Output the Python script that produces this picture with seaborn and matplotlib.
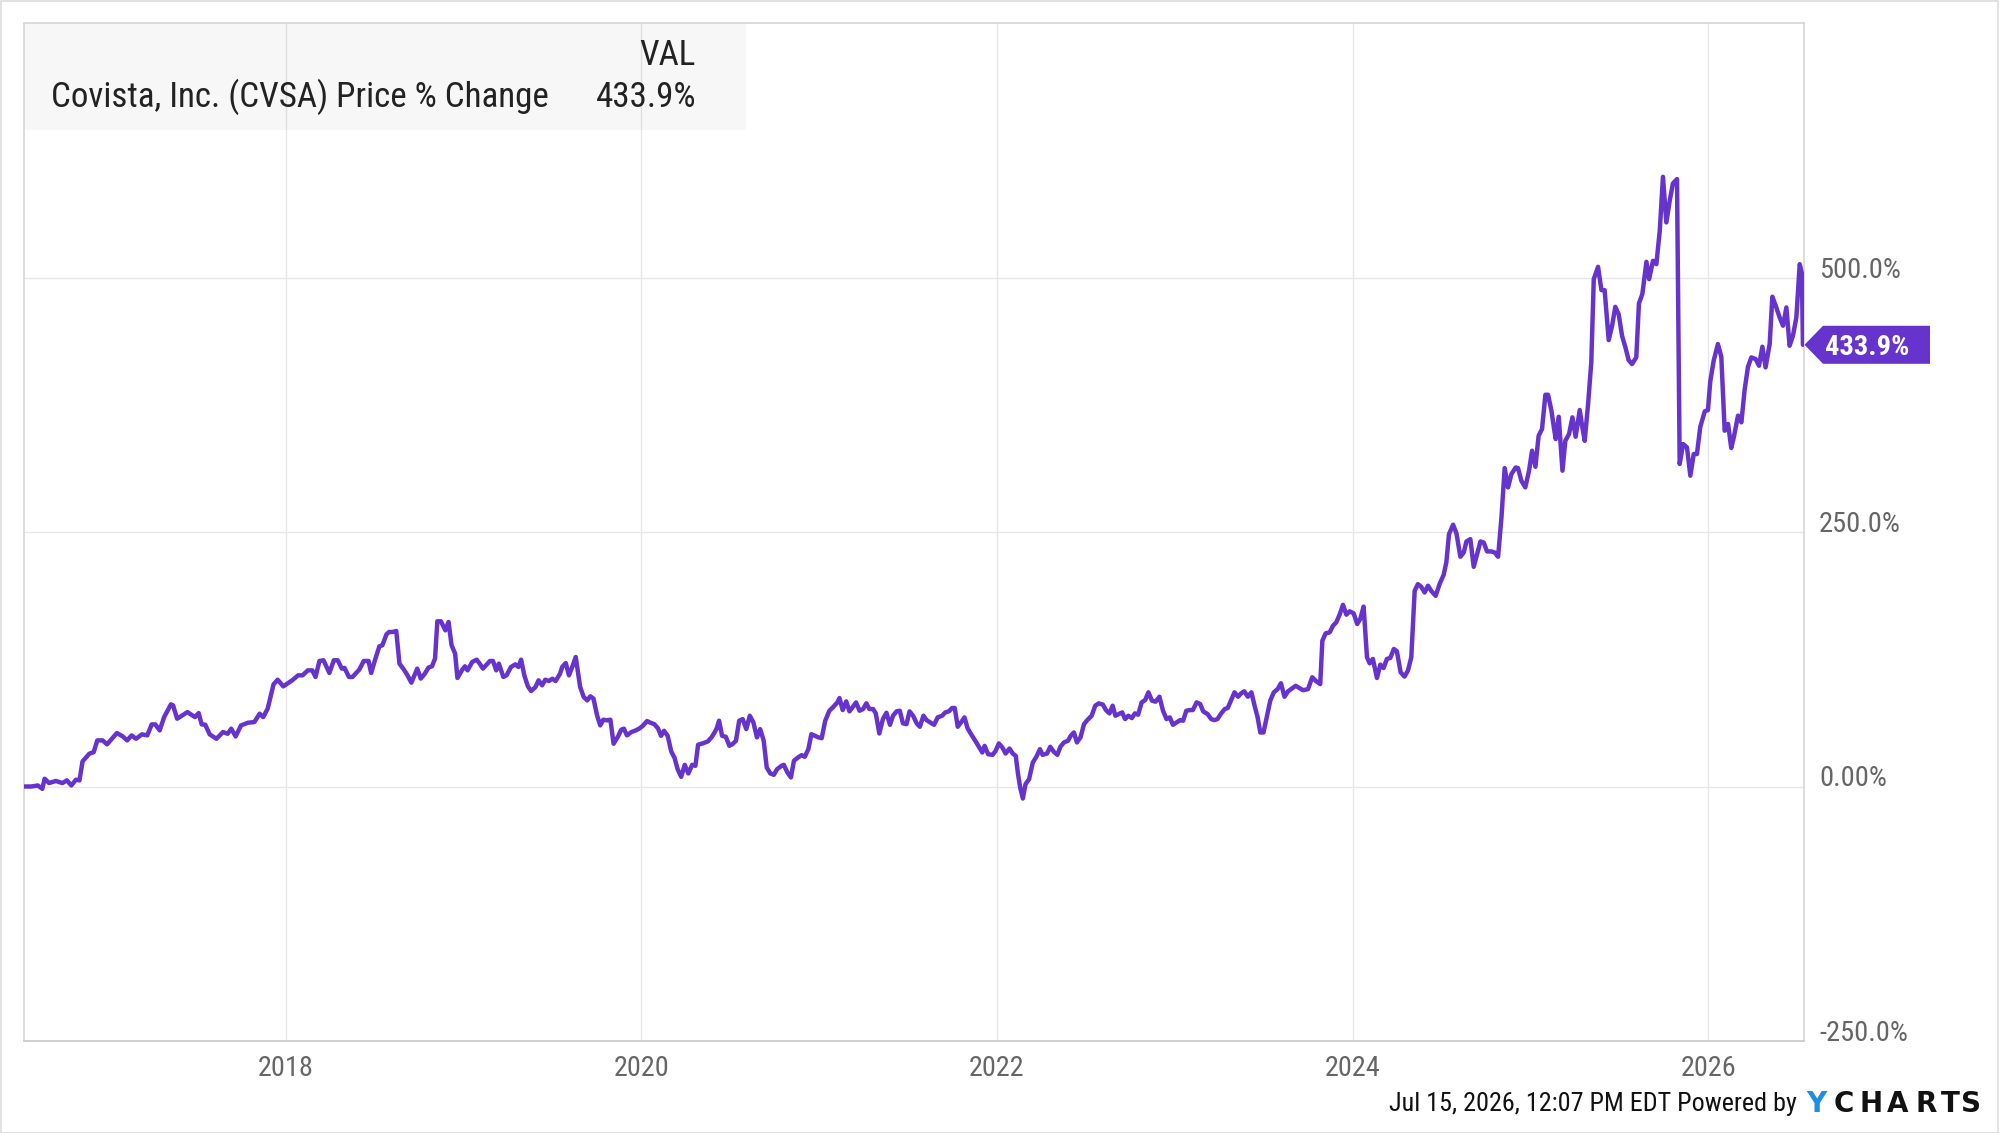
import matplotlib
matplotlib.use("Agg")
import matplotlib.pyplot as plt
from matplotlib.patches import Rectangle, Polygon
import pandas as pd
import seaborn as sns

# price % change of CVSA (decimal year, % change)
years_2016_2019 = [
    2016.532, 2016.570, 2016.607, 2016.632, 2016.645, 2016.670, 2016.708, 2016.745, 2016.770, 2016.795,
    2016.821, 2016.841, 2016.858, 2016.896, 2016.921, 2016.941, 2016.971, 2016.996, 2017.051, 2017.084,
    2017.109, 2017.134, 2017.159, 2017.192, 2017.222, 2017.247, 2017.267, 2017.292, 2017.317, 2017.355,
    2017.367, 2017.390, 2017.448, 2017.490, 2017.511, 2017.528, 2017.548, 2017.573, 2017.611, 2017.648,
    2017.674, 2017.694, 2017.719, 2017.749, 2017.787, 2017.824, 2017.854, 2017.874, 2017.899, 2017.932,
    2017.955, 2017.987, 2018.037, 2018.070, 2018.095, 2018.125, 2018.150, 2018.168, 2018.190, 2018.213,
    2018.246, 2018.271, 2018.293, 2018.316, 2018.331, 2018.356, 2018.376, 2018.414, 2018.439, 2018.466,
    2018.481, 2018.502, 2018.527, 2018.544, 2018.567, 2018.582, 2018.602, 2018.622, 2018.640, 2018.665,
    2018.682, 2018.707, 2018.740, 2018.760, 2018.783, 2018.803, 2018.823, 2018.840, 2018.853, 2018.873,
    2018.898, 2018.916, 2018.933, 2018.953, 2018.966, 2018.991, 2019.008, 2019.023, 2019.049, 2019.074,
    2019.091, 2019.109, 2019.149, 2019.166, 2019.184, 2019.199, 2019.224, 2019.242, 2019.267, 2019.292,
    2019.309, 2019.324, 2019.342, 2019.362, 2019.380, 2019.405, 2019.422, 2019.442, 2019.460, 2019.480,
    2019.500, 2019.518, 2019.543, 2019.555, 2019.575, 2019.593, 2019.613, 2019.631, 2019.656, 2019.676,
    2019.696, 2019.713, 2019.731, 2019.751, 2019.769, 2019.786, 2019.806, 2019.826, 2019.844, 2019.869,
    2019.887, 2019.902, 2019.919, 2019.944, 2019.969, 2019.987, 2020.007, 2020.032,
]
pct_2016_2019 = [
    0.0, 0.0, 1.0, -2.3, 7.6, 3.4, 5.4, 3.4, 6.0, 1.0,
    6.7, 6.0, 24.6, 32.2, 33.8, 45.3, 45.3, 41.4, 52.5, 49.2,
    45.3, 50.2, 46.9, 51.2, 50.2, 61.0, 61.0, 55.1, 68.2, 80.7,
    79.7, 66.6, 73.1, 68.2, 72.1, 61.0, 60.7, 51.2, 46.9, 53.5,
    51.8, 56.8, 49.2, 60.0, 62.6, 63.3, 71.5, 68.2, 76.4, 100.3,
    104.9, 98.4, 104.3, 109.2, 109.2, 114.1, 114.1, 107.6, 123.3, 124.0,
    111.5, 124.0, 124.0, 115.8, 116.5, 107.6, 107.6, 114.8, 123.3, 123.3,
    111.5, 124.0, 137.7, 138.7, 149.5, 151.8, 151.8, 152.8, 120.7, 114.8,
    110.2, 102.0, 115.8, 106.0, 110.9, 116.8, 118.1, 125.6, 162.3, 162.3,
    153.4, 161.6, 138.7, 130.5, 106.6, 114.1, 118.1, 114.1, 122.3, 124.6,
    120.7, 115.8, 123.3, 123.3, 114.1, 120.7, 107.6, 109.2, 117.4, 120.0,
    117.4, 124.6, 109.2, 98.4, 93.8, 97.7, 104.3, 99.4, 104.9, 103.6,
    105.9, 103.6, 110.9, 117.4, 121.3, 109.2, 118.1, 127.2, 97.7, 87.9,
    84.6, 88.6, 86.3, 69.9, 60.0, 65.6, 65.0, 65.6, 42.0, 49.2,
    55.8, 56.8, 50.2, 53.5, 55.1, 56.8, 59.4, 64.3,
]

years_2020_2023 = [
    2020.048, 2020.073, 2020.093, 2020.111, 2020.128, 2020.148, 2020.168, 2020.186, 2020.204, 2020.224,
    2020.244, 2020.264, 2020.286, 2020.304, 2020.319, 2020.344, 2020.374, 2020.394, 2020.412, 2020.424,
    2020.437, 2020.454, 2020.475, 2020.495, 2020.512, 2020.532, 2020.550, 2020.570, 2020.590, 2020.610,
    2020.630, 2020.650, 2020.668, 2020.688, 2020.705, 2020.725, 2020.745, 2020.763, 2020.788, 2020.801,
    2020.821, 2020.841, 2020.858, 2020.881, 2020.901, 2020.919, 2020.939, 2020.956, 2020.976, 2020.996,
    2021.014, 2021.034, 2021.057, 2021.077, 2021.102, 2021.114, 2021.132, 2021.152, 2021.170, 2021.190,
    2021.207, 2021.227, 2021.247, 2021.265, 2021.282, 2021.303, 2021.318, 2021.338, 2021.358, 2021.378,
    2021.398, 2021.415, 2021.435, 2021.453, 2021.471, 2021.491, 2021.508, 2021.528, 2021.548, 2021.566,
    2021.586, 2021.604, 2021.624, 2021.646, 2021.666, 2021.691, 2021.709, 2021.729, 2021.747, 2021.762,
    2021.779, 2021.797, 2021.817, 2021.834, 2021.854, 2021.880, 2021.900, 2021.917, 2021.930, 2021.950,
    2021.975, 2021.992, 2022.010, 2022.030, 2022.048, 2022.070, 2022.088, 2022.105, 2022.118, 2022.130,
    2022.145, 2022.160, 2022.180, 2022.201, 2022.221, 2022.241, 2022.256, 2022.281, 2022.299, 2022.319,
    2022.339, 2022.356, 2022.376, 2022.399, 2022.414, 2022.432, 2022.449, 2022.469, 2022.489, 2022.507,
    2022.532, 2022.552, 2022.572, 2022.595, 2022.612, 2022.632, 2022.650, 2022.665, 2022.683, 2022.703,
    2022.720, 2022.738, 2022.758, 2022.775, 2022.793, 2022.813, 2022.833, 2022.851, 2022.871, 2022.891,
    2022.913, 2022.933, 2022.953, 2022.971, 2022.989, 2023.009, 2023.029, 2023.046, 2023.064, 2023.084,
    2023.101, 2023.122, 2023.142, 2023.159, 2023.184, 2023.204, 2023.222, 2023.239, 2023.260, 2023.280,
    2023.297, 2023.315, 2023.335, 2023.355, 2023.372, 2023.390, 2023.410, 2023.430, 2023.448, 2023.465,
    2023.480, 2023.498, 2023.516, 2023.536, 2023.556, 2023.578, 2023.596, 2023.616, 2023.636,
]
pct_2020_2023 = [
    62.9, 61.2, 57.3, 49.8, 54.7, 49.8, 34.4, 28.5, 17.0, 9.5,
    21.3, 12.8, 21.3, 20.3, 41.0, 42.3, 44.3, 48.2, 53.1, 57.3,
    64.6, 49.8, 48.8, 40.0, 41.6, 44.9, 64.6, 66.2, 56.4, 69.5,
    62.9, 48.2, 56.4, 44.9, 18.7, 12.8, 11.5, 17.0, 20.3, 21.3,
    13.8, 8.9, 25.3, 28.5, 30.8, 29.2, 36.7, 51.4, 49.8, 48.2,
    47.5, 64.6, 74.4, 77.7, 82.6, 86.9, 75.1, 83.6, 73.8, 78.4,
    82.6, 74.4, 76.1, 81.7, 76.1, 76.1, 71.8, 52.1, 66.2, 72.4,
    60.6, 69.5, 73.8, 74.4, 62.0, 61.3, 73.8, 69.5, 62.0, 58.7,
    69.5, 65.2, 62.9, 60.6, 67.9, 69.5, 72.8, 73.8, 77.1, 77.1,
    58.7, 62.9, 67.9, 57.3, 51.4, 44.2, 38.3, 33.4, 39.9, 31.7,
    31.1, 35.0, 42.3, 38.3, 32.4, 37.3, 32.4, 30.1, 12.1, -1.0,
    -11.8, 2.3, 7.2, 23.6, 29.2, 36.7, 31.1, 32.4, 39.0, 34.1,
    31.1, 39.0, 43.3, 44.9, 49.8, 53.1, 43.3, 48.2, 61.3, 65.2,
    69.5, 79.4, 81.7, 80.4, 75.1, 71.8, 79.4, 69.5, 71.1, 72.8,
    66.2, 69.5, 67.2, 71.8, 70.5, 82.6, 85.0, 92.5, 84.3, 83.3,
    88.2, 74.4, 66.2, 67.9, 60.6, 62.9, 65.2, 64.6, 74.4, 75.1,
    75.1, 82.6, 81.0, 73.8, 71.1, 66.2, 65.2, 66.2, 71.8, 76.1,
    77.1, 84.3, 92.5, 88.2, 91.5, 93.5, 88.2, 92.5, 79.4, 67.9,
    53.1, 53.1, 67.9, 84.3, 92.5, 95.8, 101.4, 88.2, 93.5,
]

years_2023_2024 = [
    2023.679, 2023.720, 2023.748, 2023.772, 2023.795, 2023.817, 2023.829, 2023.847, 2023.870, 2023.889,
    2023.907, 2023.926, 2023.945, 2023.964, 2023.982, 2024.005, 2024.025, 2024.042, 2024.061, 2024.080,
    2024.095, 2024.113, 2024.136, 2024.155, 2024.173, 2024.192, 2024.211, 2024.231, 2024.248, 2024.269,
    2024.291, 2024.310, 2024.329, 2024.348, 2024.366, 2024.385, 2024.404, 2024.423, 2024.441, 2024.466,
    2024.488, 2024.511, 2024.526,
]
pct_2023_2024 = [
    98.9, 94.6, 95.6, 107.3, 103.3, 100.6, 143.2, 150.4, 151.4, 158.0,
    161.2, 168.8, 178.5, 168.8, 172.1, 170.1, 159.6, 164.6, 176.7, 126.9,
    121.0, 125.3, 106.6, 119.7, 116.4, 125.3, 126.3, 135.1, 132.8, 112.2,
    108.0, 113.8, 126.9, 192.2, 198.8, 196.2, 190.6, 197.2, 192.2, 187.3,
    198.8, 208.0, 220.1,
]

years_2024_2026 = [
    2024.541, 2024.564, 2024.583, 2024.605, 2024.624, 2024.639, 2024.661, 2024.680, 2024.699, 2024.718,
    2024.736, 2024.755, 2024.779, 2024.798, 2024.817, 2024.836, 2024.854, 2024.873, 2024.892, 2024.916,
    2024.929, 2024.948, 2024.970, 2024.991, 2025.008, 2025.027, 2025.045, 2025.064, 2025.083, 2025.098,
    2025.117, 2025.130, 2025.141, 2025.158, 2025.179, 2025.195, 2025.216, 2025.235, 2025.253, 2025.276,
    2025.291, 2025.304, 2025.323, 2025.341, 2025.355, 2025.379, 2025.398, 2025.416, 2025.439, 2025.458,
    2025.476, 2025.495, 2025.514, 2025.533, 2025.551, 2025.570, 2025.594, 2025.609, 2025.628, 2025.651,
    2025.666, 2025.688, 2025.707, 2025.726, 2025.744, 2025.763, 2025.782, 2025.800, 2025.823, 2025.838,
    2025.857, 2025.879, 2025.898, 2025.917, 2025.935, 2025.954, 2025.979, 2025.997, 2026.010, 2026.029,
    2026.053, 2026.072, 2026.091, 2026.110, 2026.128, 2026.143, 2026.166, 2026.185, 2026.203, 2026.222,
    2026.241, 2026.265, 2026.284, 2026.303, 2026.321, 2026.344, 2026.359, 2026.378, 2026.400, 2026.419,
    2026.438, 2026.456, 2026.475, 2026.494, 2026.513, 2026.525, 2026.531,
]
pct_2024_2026 = [
    247.9, 257.2, 248.6, 225.7, 229.9, 240.7, 243.0, 215.8, 228.3, 240.7,
    239.7, 230.9, 230.9, 229.9, 225.7, 264.3, 312.8, 293.8, 306.9, 313.4,
    312.8, 300.3, 293.8, 310.2, 329.8, 314.1, 344.6, 351.1, 384.8, 384.8,
    369.1, 353.4, 341.3, 363.2, 310.2, 339.6, 346.2, 362.6, 343.6, 369.8,
    352.7, 339.6, 375.6, 416.5, 498.4, 510.5, 487.6, 487.6, 438.5, 452.6,
    471.2, 464.0, 442.8, 431.3, 418.9, 415.0, 421.5, 474.5, 483.7, 515.4,
    498.4, 516.4, 513.1, 545.9, 598.9, 554.1, 575.4, 592.4, 596.7, 316.8,
    336.4, 333.1, 305.3, 326.6, 326.6, 353.4, 368.5, 369.8, 397.9, 418.2,
    434.6, 422.2, 349.5, 356.1, 332.5, 343.6, 364.3, 357.7, 389.4, 412.3,
    421.5, 419.9, 413.3, 432.0, 411.7, 434.6, 481.1, 472.3, 460.8, 452.6,
    470.6, 433.0, 442.8, 460.8, 513.1, 504.0, 433.9,
]

series_name = "Covista, Inc. (CVSA) Price % Change"
last_value = 433.9
x_ticks = [2018, 2020, 2022, 2024, 2026]
y_ticks = [-250, 0, 250, 500]
y_tick_labels = ["-250.0%", "0.00%", "250.0%", "500.0%"]
timestamp = "Jul 15, 2026, 12:07 PM EDT Powered by"

LINE = "#6633cc"
GRID = "#e6e6e6"
TICK = "#666666"

df = pd.DataFrame({
    "year": years_2016_2019 + years_2020_2023 + years_2023_2024 + years_2024_2026,
    "pct": pct_2016_2019 + pct_2020_2023 + pct_2023_2024 + pct_2024_2026,
})

sns.set_style("white")
plt.rcParams["font.family"] = ["Roboto Condensed", "Liberation Sans Narrow", "DejaVu Sans"]

W, H = 2000, 1133
fig = plt.figure(figsize=(W / 100, H / 100), dpi=100)
ax = fig.add_axes([24 / W, 92 / H, 1780 / W, 1018 / H])

sns.lineplot(data=df, x="year", y="pct", ax=ax, color=LINE, linewidth=3.2,
             estimator=None, sort=False, zorder=3)

ax.set_xlim(2016.529, 2026.537)
ax.set_ylim(-250, 750)
ax.set_xlabel("")
ax.set_ylabel("")

ax.set_xticks(x_ticks, [str(y) for y in x_ticks])
ax.yaxis.tick_right()
ax.set_yticks(y_ticks, y_tick_labels, va="baseline", ha="left")
ax.tick_params(axis="x", length=0, pad=10, labelsize=20.3, labelcolor=TICK)
ax.tick_params(axis="y", length=0, pad=10.8, labelsize=20.5, labelcolor=TICK)
ax.grid(True, color=GRID, linewidth=1.0)
ax.set_axisbelow(True)

for side, spine in ax.spines.items():
    spine.set_visible(True)
    spine.set_color("#d6d6d6")
    spine.set_linewidth(1.2)
ax.spines["bottom"].set_color("#c8c8c8")

# legend panel in the top-left corner
box_w = (746 - 24) / 1780
box_h = (130 - 23) / 1018
ax.add_patch(Rectangle((0, 1 - box_h), box_w, box_h, transform=ax.transAxes,
                       facecolor=(0, 0, 0, 0.03), edgecolor="none", zorder=1))
fig.text(696 / W, 1 - 65 / H, "VAL", ha="right", va="baseline", fontsize=25.2, color="#222222")
fig.text(51 / W, 1 - 107 / H, series_name, ha="left", va="baseline", fontsize=25.2, color="#222222")
fig.text(696 / W, 1 - 107 / H, f"{last_value:.1f}%", ha="right", va="baseline",
         fontsize=25.2, color="#222222")

# last value flag on the right axis
y_px = ax.transData.transform((2026, last_value))[1]
tip_x = 1804.5
flag = [(tip_x, y_px), (1823, y_px + 19), (1930, y_px + 19),
        (1930, y_px - 19), (1823, y_px - 19)]
fig.patches.append(Polygon([(x / W, y / H) for x, y in flag], closed=True,
                           transform=fig.transFigure, facecolor=LINE, edgecolor="none"))
fig.text(1867 / W, y_px / H, f"{last_value:.1f}%", ha="center", va="center_baseline",
         fontsize=20.5, fontweight="bold", color="white")

# footer
fig.text(1797 / W, 1 - 1111 / H, timestamp, ha="right", va="baseline", fontsize=18.8, color="#111111")
logo_x = [1816, 1844, 1871, 1898, 1926, 1950, 1971]
for ch, lx in zip("YCHARTS", logo_x):
    fig.text(lx / W, 1 - 1112 / H, ch, ha="center", va="baseline", fontsize=20,
             fontweight="bold", family="DejaVu Sans",
             color="#1a8fe3" if ch == "Y" else "#111111")

fig.patches.append(Rectangle((0.5 / W, 0.5 / H), 1997 / W, 1131.5 / H, transform=fig.transFigure,
                             fill=False, edgecolor="#dddddd", linewidth=1.2))

fig.savefig("out.png", dpi=100)
plt.close(fig)
